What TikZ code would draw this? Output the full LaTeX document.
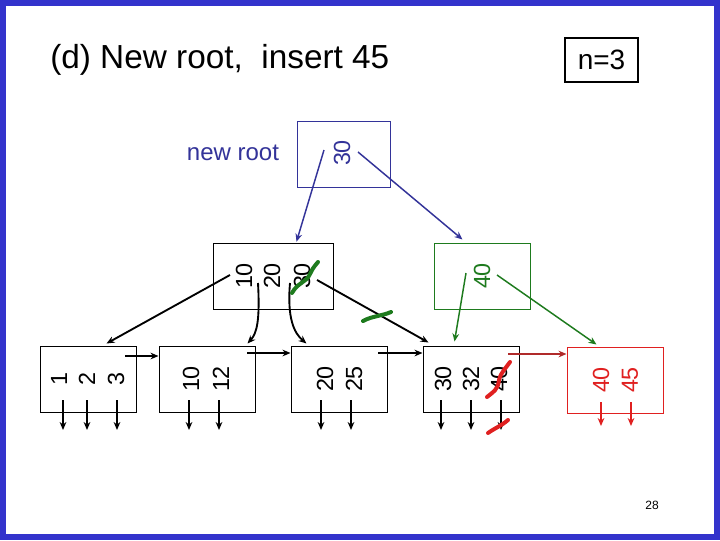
\documentclass[tikz,border=0pt]{standalone}
\usepackage{fontspec}
\setmainfont{Liberation Sans}
\usetikzlibrary{arrows.meta,calc}
\definecolor{frameblue}{HTML}{3333CC}
\definecolor{rootblue}{HTML}{333399}
\definecolor{dgreen}{HTML}{1E7B1E}
\definecolor{lred}{HTML}{E02020}
\definecolor{dred}{HTML}{B02A2A}
\tikzset{
  keybox/.style={draw, line width=0.75pt, minimum width=72pt, minimum height=49.5pt, inner sep=0pt},
  num/.style={rotate=90, font=\fontsize{17.5}{17.5}\selectfont, inner sep=0pt},
  ptr/.style={line width=1.4pt, -{Stealth[length=6pt,width=5pt]}},
  strike/.style={line width=3pt, line cap=round},
}
\begin{document}
\begin{tikzpicture}[x=0.75pt,y=-0.75pt]
\useasboundingbox (0,0) rectangle (720,540);
\fill[white] (0,0) rectangle (720,540);
\draw[frameblue, line width=4.5pt] (3,3) rectangle (717,537);

% title
\node[anchor=west, inner sep=0pt, font=\fontsize{25}{25}\selectfont] (title) at (50,60) {(d) New root,\ \ insert 45};
\node[draw, line width=1.5pt, minimum width=54.75pt, minimum height=33pt, inner sep=0pt, font=\fontsize{21}{21}\selectfont] (nbox) at (601.5,60) {n=3};
\node[font=\fontsize{9}{9}\selectfont\rmfamily, inner sep=0pt] (page) at (652,505) {28};

% root
\node[keybox, draw=rootblue, minimum width=69.75pt] (root) at (343.5,154) {};
\node[num, rootblue] (r30) at (342,153) {30};
\node[rootblue, font=\fontsize{18}{18}\selectfont, inner sep=0pt] (newroot) at (233,153) {new root};

% internal node
\node[keybox, minimum width=90pt, minimum height=50pt] (inner) at (273,276.5) {};
\node[num] (i10) at (244,276) {10};
\node[num] (i20) at (272,276) {20};
\node[num] (i30) at (302,276) {30};

% green node
\node[keybox, draw=dgreen] (gnode) at (482,276) {};
\node[num, dgreen] (g40) at (482,276) {40};

% leaves
\node[keybox] (leaf1) at (88,379) {};
\node[num] (a1) at (59,379) {1};
\node[num] (a2) at (87,379) {2};
\node[num] (a3) at (116,379) {3};

\node[keybox] (leaf2) at (207,379) {};
\node[num] (b10) at (191,379) {10};
\node[num] (b12) at (221,379) {12};

\node[keybox] (leaf3) at (339,379) {};
\node[num] (c20) at (325,379) {20};
\node[num] (c25) at (354,379) {25};

\node[keybox] (leaf4) at (471,379) {};
\node[num] (d30) at (443,379) {30};
\node[num] (d32) at (471,379) {32};
\node[num] (d40) at (499,379) {40};

\node[keybox, draw=lred] (leaf5) at (615,380) {};
\node[num, lred] (e40) at (601,380) {40};
\node[num, lred] (e45) at (630,380) {45};

% downward pointers
\foreach \x in {63,87,117,189,219,321,351,441,471,501} {
  \draw[ptr] (\x,400) -- (\x,430);
}
\foreach \x in {601,631} {
  \draw[ptr, lred, line width=1.1pt] (\x,402) -- (\x,426);
}

% sibling pointers
\coordinate (s1) at (125,356);
\coordinate (s2) at (247,353);
\coordinate (s3) at (378,353);
\coordinate (s4) at (508,354);
\draw[ptr] (s1) -- (s1 -| leaf2.west);
\draw[ptr] (s2) -- (s2 -| leaf3.west);
\draw[ptr] (s3) -- (s3 -| leaf4.west);
\draw[ptr, dred] (s4) -- (s4 -| leaf5.west);

% internal node pointers
\coordinate (q0) at (230,275);
\coordinate (q1) at (258,283);
\coordinate (q2) at (290,283);
\coordinate (q3) at (317,280);
\draw[ptr] (q0) -- ($(leaf1.north west)+(67,-2)$);
\draw[ptr] (q1) .. controls (260,320) and (257,333) .. ($(leaf2.north west)+(89,-2)$);
\draw[ptr] (q2) .. controls (287,318) and (294,333) .. ($(leaf3.north west)+(16,-2)$);
\draw[ptr] (q3) -- ($(leaf4.north west)+(6,-3)$);

% root pointers
\coordinate (rp0) at (324,150);
\coordinate (rp1) at (358,152);
\draw[ptr, rootblue, line width=1.1pt] (rp0) -- ($(inner.north west)+(84,-1)$);
\draw[ptr, rootblue, line width=1.1pt] (rp1) -- ($(gnode.north west)+(29,-3)$);

% green node pointers
\coordinate (gp0) at (466,273);
\coordinate (gp1) at (497,275);
\draw[ptr, dgreen, line width=1.1pt] (gp0) -- ($(leaf4.north west)+(32,-4)$);
\draw[ptr, dgreen, line width=1.1pt] (gp1) -- ($(leaf5.north west)+(30,-2)$);

% strike marks
\draw[strike, dgreen] (292,293) .. controls (298,282) and (306,283) .. (310,274) .. controls (313,268) .. (318,262);
\draw[strike, dgreen] (363,321) .. controls (372,316) and (382,316) .. (391,312);
\draw[strike, lred] (487,397) .. controls (493,392) and (498,390) .. (499,380) .. controls (501,372) and (506,368) .. (510,362);
\draw[strike, lred] (488,433) .. controls (495,428) and (501,426) .. (508,420);
\end{tikzpicture}
\end{document}
